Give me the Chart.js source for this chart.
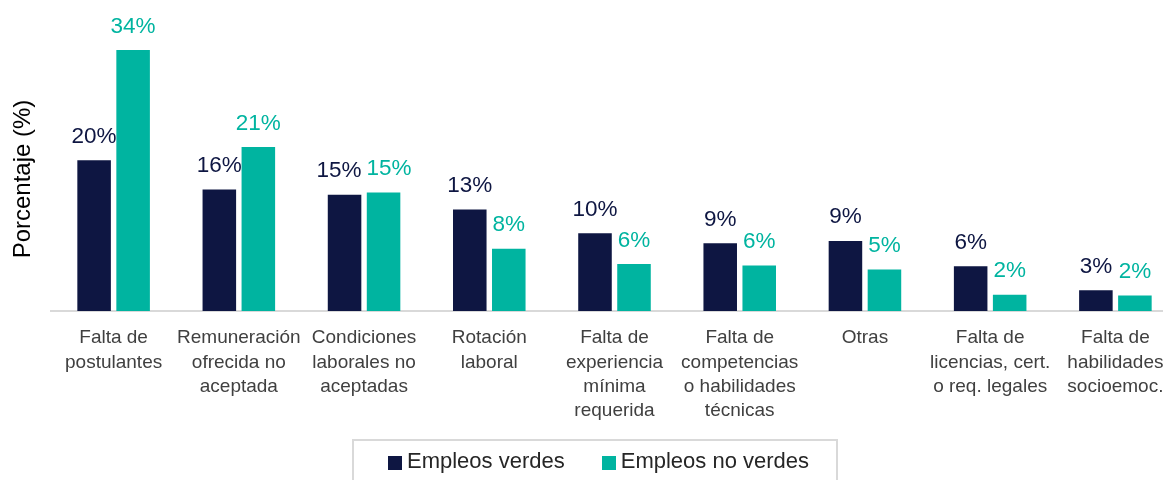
<!DOCTYPE html>
<html>
<head>
<meta charset="utf-8">
<script src="https://cdn.jsdelivr.net/npm/chart.js@4.4.0/dist/chart.umd.min.js"></script>
<style>
  body { margin: 0; overflow: hidden; background: #fff; font-family: "Liberation Sans", Arial, sans-serif; }
  #wrap { position: relative; width: 1180px; height: 480px; }
  #legend {
    position: absolute; left: 352px; top: 439px; width: 482px; height: 60px;
    border: 2px solid #d9d9d9; box-sizing: content-box;
    display: flex; align-items: flex-start;
  }
  .item { display: flex; align-items: center; height: 26px; margin-top: 7px; font-size: 22px; color: #262626; }
  .item:first-child { margin-left: 34px; }
  .item + .item { margin-left: 37px; }
  .sw { width: 14px; height: 14px; margin-right: 5px; margin-top: 3px; }
</style>
</head>
<body>
<div id="wrap">
  <canvas id="causas"></canvas>
  <div id="legend"></div>
</div>
<script>
// Datos del gráfico
const categorias = [
  ['Falta de', 'postulantes'],
  ['Remuneración', 'ofrecida no', 'aceptada'],
  ['Condiciones', 'laborales no', 'aceptadas'],
  ['Rotación', 'laboral'],
  ['Falta de', 'experiencia', 'mínima', 'requerida'],
  ['Falta de', 'competencias', 'o habilidades', 'técnicas'],
  ['Otras'],
  ['Falta de', 'licencias, cert.', 'o req. legales'],
  ['Falta de', 'habilidades', 'socioemoc.']
];
const empleosVerdes = [19.6, 15.8, 15.1, 13.2, 10.1, 8.8, 9.1, 5.8, 2.7];
const empleosNoVerdes = [33.9, 21.3, 15.4, 8.1, 6.1, 5.9, 5.4, 2.1, 2.0];
const series = ['Empleos verdes', 'Empleos no verdes'];
const colores = ['#0E1642', '#00B4A0'];

const FONT = '"Liberation Sans", Arial, sans-serif';

// etiquetas de valor sobre cada barra (se separan si chocan)
const valueLabels = {
  id: 'valueLabels',
  afterDatasetsDraw(chart) {
    const ctx = chart.ctx;
    ctx.save();
    ctx.font = '22.5px ' + FONT;
    ctx.textAlign = 'center';
    ctx.textBaseline = 'alphabetic';
    const a = chart.getDatasetMeta(0).data;
    const b = chart.getDatasetMeta(1).data;
    const dsA = chart.data.datasets[0];
    const dsB = chart.data.datasets[1];
    a.forEach((barA, j) => {
      const barB = b[j];
      const tA = Math.round(dsA.data[j]) + '%';
      const tB = Math.round(dsB.data[j]) + '%';
      let xA = barA.x, xB = barB.x;
      if (Math.abs(barA.y - barB.y) < 18) {
        const need = (ctx.measureText(tA).width + ctx.measureText(tB).width) / 2 + 5 - (xB - xA);
        if (need > 0) { xA -= need / 2; xB += need / 2; }
      }
      ctx.fillStyle = dsA.backgroundColor;
      ctx.fillText(tA, xA, barA.y - 17.5);
      ctx.fillStyle = dsB.backgroundColor;
      ctx.fillText(tB, xB, barB.y - 17.5);
    });
    ctx.restore();
  }
};

const ctx = document.getElementById('causas').getContext('2d');
const chart = new Chart(ctx, {
  type: 'bar',
  data: {
    labels: categorias,
    datasets: [
      { label: series[0], data: empleosVerdes, backgroundColor: colores[0] },
      { label: series[1], data: empleosNoVerdes, backgroundColor: colores[1] }
    ]
  },
  options: {
    responsive: true,
    maintainAspectRatio: false,
    animation: false,
    categoryPercentage: 0.623,
    barPercentage: 0.86,
    layout: { padding: { top: 47, left: 0, right: 2, bottom: 0 } },
    plugins: {
      legend: { display: false },
      tooltip: { enabled: false }
    },
    scales: {
      x: {
        grid: { display: false, drawTicks: false },
        border: { display: true, color: '#d9d9d9', width: 2 },
        ticks: {
          autoSkip: false,
          maxRotation: 0,
          padding: 15,
          color: '#404040',
          font: { family: FONT, size: 19, lineHeight: 1.28 }
        },
        afterFit(scale) { scale.height = 169; }
      },
      y: {
        min: 0,
        max: 34.3,
        grid: { display: false, drawTicks: false },
        border: { display: false },
        ticks: { display: false },
        title: {
          display: true,
          text: 'Porcentaje (%)',
          color: '#000',
          font: { family: FONT, size: 24 },
          padding: { top: 8.6, bottom: 13.6 }
        }
      }
    }
  },
  plugins: [valueLabels]
});

// leyenda con recuadro
const legend = document.getElementById('legend');
chart.data.datasets.forEach(ds => {
  const item = document.createElement('div');
  item.className = 'item';
  const sw = document.createElement('span');
  sw.className = 'sw';
  sw.style.background = ds.backgroundColor;
  item.appendChild(sw);
  item.appendChild(document.createTextNode(ds.label));
  legend.appendChild(item);
});
</script>
</body>
</html>
